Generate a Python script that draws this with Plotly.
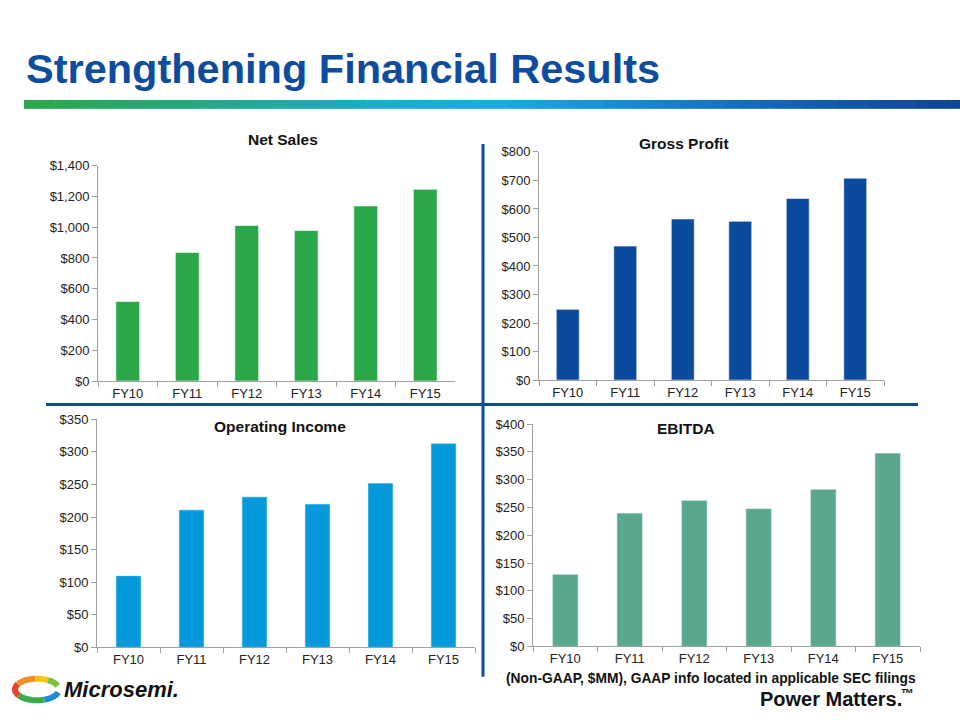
import numpy as np
import plotly.graph_objects as go

# ── data ─────────────────────────────────────────────
YEARS = ["FY10", "FY11", "FY12", "FY13", "FY14", "FY15"]
NET_SALES = [517, 836, 1011, 978, 1138, 1246]
GROSS_PROFIT = [248, 470, 565, 557, 637, 708]
OPERATING_INCOME = [110, 211, 231, 220, 252, 313]
EBITDA = [130, 240, 263, 248, 283, 348]

W, H = 960, 720


def px(x):
    return x / W


def py(y):
    return 1 - y / H


TITLE_BLUE = "#0D4C9E"
ARIAL = "Arial, Liberation Sans, sans-serif"
TICK_FONT = dict(family=ARIAL, size=13, color="#222222")

# (name, values, colour, axis suffix, x px, y px, range, dtick, title pos)
panels = [
    ("Net Sales", NET_SALES, "#2AA748", "", (98, 455), (382, 162), 1400, 200, (283, 135)),
    ("Gross Profit", GROSS_PROFIT, "#0C4A9D", "2", (539, 884), (381, 148), 800, 100, (684, 139)),
    ("Operating Income", OPERATING_INCOME, "#0499DA", "3", (97, 475), (654, 421), 350, 50, (280, 428)),
    ("EBITDA", EBITDA, "#59A78F", "4", (533, 920), (653, 426), 400, 50, (686, 430)),
]

fig = go.Figure()
annotations = []
layout_axes = {}

for name, vals, color, suf, (x0, x1), (yb, yt), ymax, dtick, (tx, ty) in panels:
    fig.add_trace(go.Bar(
        x=YEARS, y=vals,
        xaxis="x" + suf, yaxis="y" + suf,
        marker=dict(color=color, line=dict(color="rgba(255,255,255,0.6)", width=1)),
        width=0.4,
        showlegend=False,
    ))
    layout_axes["xaxis" + suf] = dict(
        domain=[px(x0), px(x1)], anchor="y" + suf,
        type="category", tickson="boundaries",
        ticks="outside", ticklen=5, tickcolor="#A0A0A0",
        showline=True, linecolor="#A0A0A0", linewidth=1,
        showgrid=False, tickfont=TICK_FONT, fixedrange=True,
    )
    layout_axes["yaxis" + suf] = dict(
        domain=[py(yb), py(yt)], anchor="x" + suf,
        range=[0, ymax], dtick=dtick,
        tickprefix="$", tickformat=",d",
        ticks="outside", ticklen=5, tickcolor="#A0A0A0",
        showline=True, linecolor="#A0A0A0", linewidth=1,
        showgrid=False, zeroline=False, tickfont=TICK_FONT, fixedrange=True,
    )
    annotations.append(dict(
        x=px(tx), y=py(ty), xref="paper", yref="paper",
        xanchor="center", yanchor="middle",
        text=f"<b>{name}</b>", showarrow=False,
        font=dict(family=ARIAL, size=15.5, color="#111111"),
    ))

# ── slide chrome ────────────────────────────────────
annotations += [
    dict(x=px(24), y=py(63), xref="paper", yref="paper", xanchor="left", yanchor="middle",
         text="<b>Strengthening Financial Results</b>", showarrow=False,
         font=dict(family=ARIAL, size=41.5, color=TITLE_BLUE)),
    dict(x=px(918), y=py(686), xref="paper", yref="paper", xanchor="right", yanchor="middle",
         text="<b>(Non-GAAP, $MM), GAAP info located in applicable SEC filings</b>", showarrow=False,
         font=dict(family=ARIAL, size=13.8, color="#111111")),
    dict(x=px(904), y=py(707), xref="paper", yref="paper", xanchor="right", yanchor="middle",
         text="<b>Power Matters.</b>", showarrow=False,
         font=dict(family=ARIAL, size=20, color="#111111")),
    dict(x=px(899), y=py(701), xref="paper", yref="paper", xanchor="left", yanchor="middle",
         text="<b>™</b>", showarrow=False,
         font=dict(family=ARIAL, size=13, color="#111111")),
    dict(x=px(62), y=py(697), xref="paper", yref="paper", xanchor="left", yanchor="middle",
         text="<b><i>Microsemi.</i></b>", showarrow=False,
         font=dict(family=ARIAL, size=22, color="#111111")),
]

shapes = []
# gradient bar under the title
grad = ["#2BA84A", "#26A872", "#22A99B", "#1FAACB", "#1DAAE2", "#1890D5", "#1473C2", "#1159AC", "#0F4596"]
bx0, bx1 = 24, 960
n_seg = 60
for i in range(n_seg):
    t = i / (n_seg - 1) * (len(grad) - 1)
    k = min(int(t), len(grad) - 2)
    f = t - k
    c0 = np.array([int(grad[k][j:j + 2], 16) for j in (1, 3, 5)])
    c1 = np.array([int(grad[k + 1][j:j + 2], 16) for j in (1, 3, 5)])
    c = (c0 + (c1 - c0) * f).astype(int)
    sx0 = bx0 + (bx1 - bx0) * i / n_seg
    sx1 = bx0 + (bx1 - bx0) * (i + 1) / n_seg + 0.5
    shapes.append(dict(type="rect", xref="paper", yref="paper",
                       x0=px(sx0), x1=px(sx1), y0=py(104), y1=py(95),
                       fillcolor=f"rgb({c[0]},{c[1]},{c[2]})", line=dict(width=0)))

# quadrant dividers
shapes.append(dict(type="line", xref="paper", yref="paper", x0=px(46), x1=px(918), y0=py(406), y1=py(406),
                   line=dict(color="#0F4A9C", width=3)))
shapes.append(dict(type="line", xref="paper", yref="paper", x0=px(483), x1=px(483), y0=py(140), y1=py(684),
                   line=dict(color="#0F4A9C", width=3)))

# logo swirl (approximation)
cx, cy, rx, ry = 37, 697, 22, 11
arcs = [(150, 215, "#E8412C"), (95, 150, "#F28C28"), (60, 95, "#F5C518"),
        (215, 290, "#3BAA4A"), (290, 345, "#1E88D0"), (20, 60, "#7CC242")]
for a0, a1, col in arcs:
    th = np.radians(np.linspace(a0, a1, 12))
    pts = [(px(cx + rx * np.cos(a)), py(cy - ry * np.sin(a))) for a in th]
    path = "M " + " L ".join(f"{x:.5f},{y:.5f}" for x, y in pts)
    shapes.append(dict(type="path", xref="paper", yref="paper", path=path,
                       line=dict(color=col, width=6)))

fig.update_layout(
    width=W, height=H,
    margin=dict(l=0, r=0, t=0, b=0),
    paper_bgcolor="white", plot_bgcolor="white",
    annotations=annotations, shapes=shapes,
    bargap=0.6,
    **layout_axes,
)

fig.write_html(
    "out.html",
    config={"displayModeBar": False},
    post_script="document.body.style.margin='0px';document.body.style.overflow='hidden';",
)
